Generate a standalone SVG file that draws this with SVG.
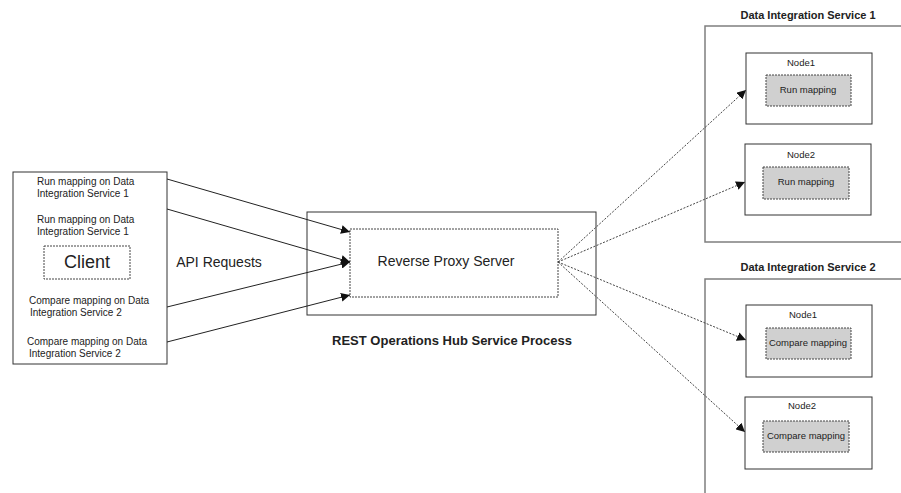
<svg xmlns="http://www.w3.org/2000/svg" width="901" height="493" viewBox="0 0 901 493">
<style>
.box{fill:#fff;stroke:#333;stroke-width:1}
.gbox{fill:#fff;stroke:#7f7f7f;stroke-width:1.5}
.dash{fill:#fff;stroke:#444;stroke-width:1;stroke-dasharray:2,1}
.gray{fill:#d0d0d0;stroke:#444;stroke-width:1;stroke-dasharray:2,1}
text{font-family:"Liberation Sans",Arial,sans-serif;fill:#222;text-anchor:middle}
.s{font-size:9.5px}
.l{font-size:10px;text-anchor:start}
.b{font-weight:bold}
.solid{stroke:#222;stroke-width:1;fill:none;marker-end:url(#ah)}
.dot{stroke:#444;stroke-width:1;stroke-dasharray:2,1.5;fill:none;marker-end:url(#ah)}
</style>
<defs>
<marker id="ah" viewBox="0 0 10 10" refX="10" refY="5" markerWidth="9" markerHeight="9" markerUnits="userSpaceOnUse" orient="auto">
<path d="M0,0 L10,5 L0,10 z" fill="#111"/>
</marker>
</defs>
<g id="client">
<rect class="box" x="13" y="172" width="154" height="192"/>
<text class="l" x="37" y="185">Run mapping on Data</text>
<text class="l" x="37" y="197">Integration Service 1</text>
<text class="l" x="37" y="223">Run mapping on Data</text>
<text class="l" x="37" y="235">Integration Service 1</text>
<rect class="dash" x="44" y="246" width="86" height="33"/>
<text x="87" y="268" style="font-size:18px">Client</text>
<text class="l" x="29" y="304">Compare mapping on Data</text>
<text class="l" x="30" y="316">Integration Service 2</text>
<text class="l" x="27" y="345">Compare mapping on Data</text>
<text class="l" x="29" y="357">Integration Service 2</text>
</g>
<g id="api-label"><text x="219" y="267" style="font-size:14px">API Requests</text></g>
<g id="rest-hub">
<rect class="box" x="307" y="212" width="289" height="103"/>
<rect class="dash" x="350" y="229" width="208" height="68"/>
<text x="446" y="266" style="font-size:14px">Reverse Proxy Server</text>
<text class="b" x="452" y="345" style="font-size:13px">REST Operations Hub Service Process</text>
</g>
<g id="dis1">
<text class="b" x="808" y="19" style="font-size:11px">Data Integration Service 1</text>
<path class="gbox" d="M905,26 H705 V242 H905"/>
<g id="dis1-node1">
<rect class="box" x="746" y="53" width="126" height="71"/>
<text class="s" x="801" y="66">Node1</text>
<rect class="gray" x="766" y="75" width="85" height="31"/>
<text class="s" x="808" y="93">Run mapping</text>
</g>
<g id="dis1-node2">
<rect class="box" x="745" y="144" width="126" height="71"/>
<text class="s" x="801" y="158">Node2</text>
<rect class="gray" x="763" y="167" width="86" height="32"/>
<text class="s" x="806" y="185">Run mapping</text>
</g>
</g>
<g id="dis2">
<text class="b" x="808" y="271" style="font-size:11px">Data Integration Service 2</text>
<path class="gbox" d="M905,279 H705 V500"/>
<g id="dis2-node1">
<rect class="box" x="746" y="305" width="126" height="72"/>
<text class="s" x="803" y="318">Node1</text>
<rect class="gray" x="766" y="328" width="85" height="31"/>
<text class="s" x="808" y="346">Compare mapping</text>
</g>
<g id="dis2-node2">
<rect class="box" x="745" y="397" width="127" height="72"/>
<text class="s" x="802" y="409">Node2</text>
<rect class="gray" x="763" y="421" width="86" height="31"/>
<text class="s" x="806" y="439">Compare mapping</text>
</g>
</g>
<g id="connectors">
<line class="solid" x1="167" y1="179" x2="350" y2="232"/>
<line class="solid" x1="167" y1="209" x2="350" y2="262"/>
<line class="solid" x1="167" y1="307" x2="350" y2="262"/>
<line class="solid" x1="167" y1="342" x2="350" y2="295"/>
<line class="dot" x1="558" y1="262" x2="746" y2="90"/>
<line class="dot" x1="558" y1="262" x2="745" y2="182"/>
<line class="dot" x1="558" y1="262" x2="746" y2="340"/>
<line class="dot" x1="558" y1="262" x2="745" y2="432"/>
</g>
</svg>
